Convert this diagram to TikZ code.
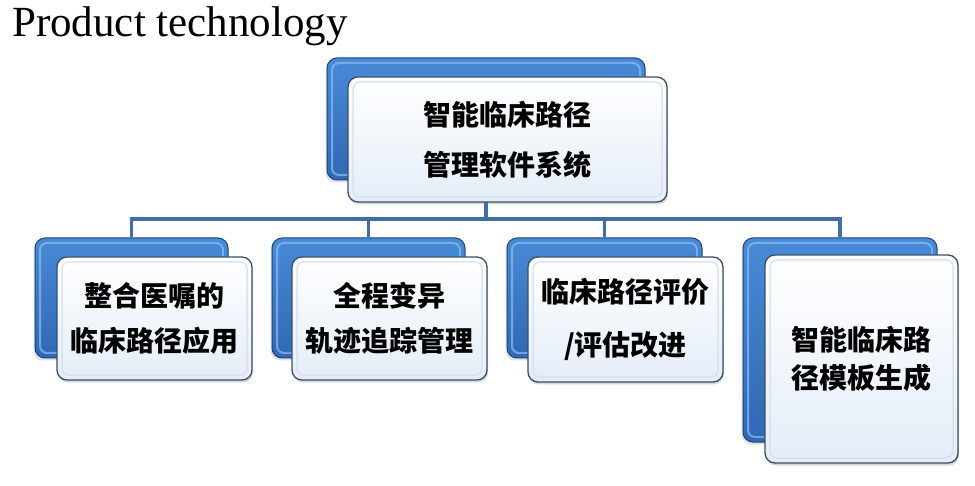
\documentclass[tikz,border=0pt]{standalone}
\usepackage{fontspec}
\setmainfont{Liberation Serif}
\newfontfamily\cjk{Noto Sans CJK SC}
\usetikzlibrary{shadows}
\definecolor{linkblue}{RGB}{63,111,168}
\definecolor{backtop}{RGB}{72,138,214}
\definecolor{backbot}{RGB}{48,104,180}
\definecolor{backedge}{RGB}{30,68,125}
\definecolor{backhi}{RGB}{140,190,240}
\definecolor{frontedge}{RGB}{58,78,105}
\definecolor{frontbot}{RGB}{228,237,248}
\definecolor{fronthi}{RGB}{215,222,232}
\tikzset{
  backbox/.style={rounded corners=10pt, draw=backedge, line width=1pt,
    top color=backtop, bottom color=backbot, inner sep=0pt,
    drop shadow={shadow xshift=-1.5pt, shadow yshift=-2.5pt, opacity=0.25},
    path picture={\draw[backhi, line width=2pt, rounded corners=7pt, opacity=0.7]
      ([shift={(5pt,-5pt)}]path picture bounding box.north west) rectangle
      ([shift={(-5pt,5pt)}]path picture bounding box.south east);}},
  frontbox/.style={rounded corners=10pt, draw=frontedge, line width=1.3pt,
    top color=white, bottom color=frontbot, inner sep=0pt, align=center,
    drop shadow={shadow xshift=1pt, shadow yshift=-2.5pt, opacity=0.3},
    path picture={\draw[fronthi, line width=1.5pt, rounded corners=7pt, opacity=0.8]
      ([shift={(5pt,-5pt)}]path picture bounding box.north west) rectangle
      ([shift={(-5pt,5pt)}]path picture bounding box.south east);}},
  cjktext/.style={font=\cjk\bfseries\fontsize{28}{#1}\selectfont},
  link/.style={draw=linkblue, line width=3.5pt}
}
\begin{document}
\begin{tikzpicture}[x=1pt,y=-1pt]
\useasboundingbox[fill=white] (0,0) rectangle (975,486);
\node[anchor=base west, font=\fontsize{43}{43}\selectfont, inner sep=0pt] (title) at (12,37) {Product technology};
% back boxes
\node[backbox, minimum width=318pt, minimum height=122pt] (tb) at (486,119) {};
\node[backbox, minimum width=193pt, minimum height=120pt] (b1) at (131.5,298) {};
\node[backbox, minimum width=193pt, minimum height=120pt] (b2) at (368.5,298) {};
\node[backbox, minimum width=195pt, minimum height=120pt] (b3) at (604.5,298) {};
\node[backbox, minimum width=194pt, minimum height=204pt] (b4) at (840,340) {};
% connectors
\coordinate (bus) at (0,219);
\draw[link] (tb.south) -- (tb.south |- bus) -| (b1.north);
\draw[link] (tb.south |- bus) -| (b2.north);
\draw[link] (tb.south |- bus) -| (b3.north);
\draw[link] (tb.south |- bus) -| (b4.north);
% front boxes
\node[frontbox, cjktext=50, minimum width=319pt, minimum height=125pt] (tf) at (507.5,139.5) {智能临床路径\\管理软件系统};
\node[frontbox, cjktext=45, minimum width=195pt, minimum height=123pt] (f1) at (154.5,318.5) {整合医嘱的\\临床路径应用};
\node[frontbox, cjktext=45, minimum width=195pt, minimum height=123pt] (f2) at (389.5,318.5) {全程变异\\轨迹追踪管理};
\node[frontbox, cjktext=53, minimum width=195pt, minimum height=125pt] (f3) at (625.5,319.5) {临床路径评价\\/评估改进};
\node[frontbox, cjktext=38, minimum width=193pt, minimum height=208pt] (f4) at (861.5,359) {智能临床路\\径模板生成};
\end{tikzpicture}
\end{document}
